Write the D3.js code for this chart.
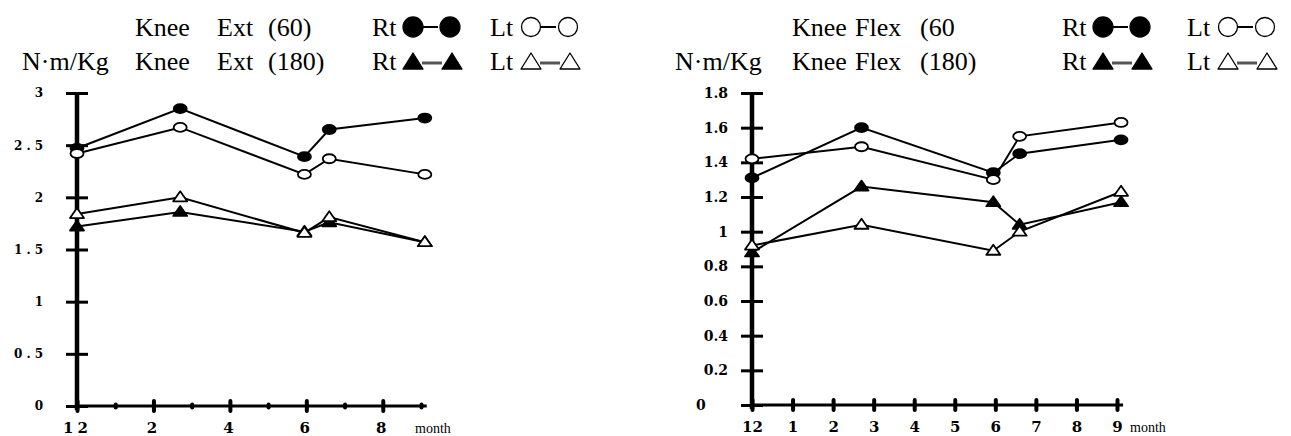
<!DOCTYPE html>
<html>
<head>
<meta charset="utf-8">
<script src="https://cdn.jsdelivr.net/npm/d3@7/dist/d3.min.js"></script>
<style>
  body { margin: 0; background: #fff; }
  svg { display: block; }
  text { font-family: "Liberation Serif", "DejaVu Serif", serif; fill: #000; }
</style>
</head>
<body>
<svg class="svg-chart" width="1291" height="436"></svg>
<script>
// months after surgery (12 = start)
var months = [0, 2.7, 5.95, 6.6, 9.1];
var monthTicks = [0, 1, 2, 3, 4, 5, 6, 7, 8, 9];
var extMonthLabels = ["12", "", "2", "", "4", "", "6", "", "8", ""];
var flexMonthLabels = ["12", "1", "2", "3", "4", "5", "6", "7", "8", "9"];

// knee extension, N·m/Kg
var extRt60 = [2.47, 2.85, 2.39, 2.65, 2.76];
var extLt60 = [2.42, 2.67, 2.22, 2.37, 2.22];
var extRt180 = [1.72, 1.86, 1.67, 1.76, 1.57];
var extLt180 = [1.84, 2.00, 1.66, 1.81, 1.57];
var extYTicks = [0, 0.5, 1, 1.5, 2, 2.5, 3];

// knee flexion, N·m/Kg
var flexRt60 = [1.31, 1.60, 1.34, 1.45, 1.53];
var flexLt60 = [1.42, 1.49, 1.30, 1.55, 1.63];
var flexRt180 = [0.88, 1.26, 1.17, 1.04, 1.17];
var flexLt180 = [0.92, 1.04, 0.89, 1.00, 1.23];
var flexYTicks = [0, 0.2, 0.4, 0.6, 0.8, 1, 1.2, 1.4, 1.6, 1.8];

var svg = d3.select(".svg-chart");
var triPath = "M-7,4L0,-6L7,4Z";

function drawPanel(p) {
  var x = d3.scaleLinear().domain([0, 9]).range(p.xRange);
  var y = d3.scaleLinear().domain(p.yDomain).range(p.yRange);
  var g = svg.append("g");

  // y axis
  var yAxis = d3.axisLeft(y)
      .tickValues(p.yTicks)
      .tickSize(11)
      .tickSizeOuter(0)
      .tickPadding(p.yPad)
      .tickFormat(p.yFormat);
  var yg = g.append("g")
      .attr("transform", "translate(" + p.xRange[0] + ",0)")
      .call(yAxis);
  yg.select(".domain").remove();
  yg.selectAll("line").attr("x1", 11).attr("stroke", "#000").attr("stroke-width", 3);
  yg.selectAll("text")
      .style("font-size", p.yFont + "px")
      .style("font-weight", "bold")
      .style("letter-spacing", p.ySpacing + "px")
      .style("font-family", "'DejaVu Serif', serif");
  if (p.zeroLeft) {
    yg.selectAll("text").filter(function(d) { return d === 0; })
      .attr("text-anchor", "start").attr("x", -56);
  }
  g.append("line")
      .attr("x1", p.xRange[0]).attr("x2", p.xRange[0])
      .attr("y1", y(0) + 4).attr("y2", y(p.yDomain[1]))
      .attr("stroke", "#000").attr("stroke-width", 4.5);

  // x axis
  var xAxis = d3.axisBottom(x)
      .tickValues(monthTicks)
      .tickSize(0)
      .tickFormat(function(d, i) { return p.xLabels[i]; });
  var xg = g.append("g")
      .attr("transform", "translate(0," + y(0) + ")")
      .call(xAxis);
  xg.select(".domain").remove();
  xg.selectAll("line")
      .attr("stroke", "#000")
      .attr("stroke-width", 4)
      .attr("stroke-linecap", "round")
      .attr("y1", function(d, i) { return p.smallOdd && i % 2 ? -1.5 : -5; })
      .attr("y2", function(d, i) { return p.smallOdd && i % 2 ? 1.5 : 5; });
  xg.selectAll("text")
      .attr("y", 27).attr("dy", 0)
      .style("font-size", "15px")
      .style("font-weight", "bold")
      .style("letter-spacing", p.xSpacing + "px")
      .style("font-family", "'DejaVu Serif', serif");
  g.append("line")
      .attr("x1", x(0)).attr("x2", x(9.15))
      .attr("y1", y(0)).attr("y2", y(0))
      .attr("stroke", "#000").attr("stroke-width", 3);
  g.append("text")
      .attr("x", x(9) + p.monthDx).attr("y", y(0) + 27)
      .style("font-size", "14px")
      .text("month");

  // series
  var line = d3.line()
      .x(function(d, i) { return x(months[i]); })
      .y(function(d) { return y(d); });
  p.series.forEach(function(s) {
    g.append("path")
        .datum(s.values)
        .attr("d", line)
        .attr("fill", "none")
        .attr("stroke", "#000")
        .attr("stroke-width", 2);
  });
  p.series.forEach(function(s) {
    var m = g.selectAll(null).data(s.values).enter();
    if (s.shape === "circle") {
      m.append("ellipse")
          .attr("cx", function(d, i) { return x(months[i]); })
          .attr("cy", function(d) { return y(d); })
          .attr("rx", 6.5).attr("ry", 4.5)
          .attr("fill", s.filled ? "#000" : "#fff")
          .attr("stroke", "#000").attr("stroke-width", 1.8);
    } else {
      m.append("path")
          .attr("d", triPath)
          .attr("transform", function(d, i) { return "translate(" + x(months[i]) + "," + y(d) + ")"; })
          .attr("fill", s.filled ? "#000" : "#fff")
          .attr("stroke", "#000").attr("stroke-width", 1.8)
          .attr("stroke-linejoin", "round");
    }
  });

  // header text
  var hs = "26px";
  g.append("text").attr("x", p.unitX).attr("y", 70).style("font-size", hs).text("N·m/Kg");
  p.titleWords[0].forEach(function(w) {
    g.append("text").attr("x", w[1]).attr("y", 36).style("font-size", hs).text(w[0]);
  });
  p.titleWords[1].forEach(function(w) {
    g.append("text").attr("x", w[1]).attr("y", 70).style("font-size", hs).text(w[0]);
  });

  // legend symbols
  [[p.rtX, true], [p.ltX, false]].forEach(function(l) {
    var lx = l[0], filled = l[1];
    g.append("text").attr("x", lx).attr("y", 36).style("font-size", hs).text(filled ? "Rt" : "Lt");
    g.append("text").attr("x", lx).attr("y", 70).style("font-size", hs).text(filled ? "Rt" : "Lt");
    // row 1 circles
    g.append("line").attr("x1", lx + 50).attr("x2", lx + 66).attr("y1", 27).attr("y2", 27)
        .attr("stroke", "#000").attr("stroke-width", 2);
    [lx + 41, lx + 78].forEach(function(cx) {
      g.append("circle").attr("cx", cx).attr("cy", 27).attr("r", filled ? 10 : 9.5)
          .attr("fill", filled ? "#000" : "#fff").attr("stroke", "#000").attr("stroke-width", 1.3);
    });
    // row 2 triangles
    g.append("line").attr("x1", lx + 50).attr("x2", lx + 70).attr("y1", 63).attr("y2", 63)
        .attr("stroke", "#555").attr("stroke-width", 3);
    [lx + 41, lx + 80].forEach(function(cx) {
      g.append("path").attr("d", "M-10,7L0,-9L10,7Z")
          .attr("transform", "translate(" + cx + ",62)")
          .attr("fill", filled ? "#000" : "#fff").attr("stroke", "#000").attr("stroke-width", 1.3)
          .attr("stroke-linejoin", "round");
    });
  });
}

drawPanel({
  xRange: [77, 421], yRange: [406, 93], yDomain: [0, 3],
  yTicks: extYTicks, yFormat: d3.format(""), yPad: 19, yFont: 12, ySpacing: 4,
  xLabels: extMonthLabels, xSpacing: 4, smallOdd: true, monthDx: -6,
  series: [
    {values: extRt60, shape: "circle", filled: true},
    {values: extLt60, shape: "circle", filled: false},
    {values: extRt180, shape: "triangle", filled: true},
    {values: extLt180, shape: "triangle", filled: false}
  ],
  unitX: 22,
  titleWords: [[["Knee", 135], ["Ext", 217], ["(60)", 268]],
               [["Knee", 135], ["Ext", 217], ["(180)", 268]]],
  rtX: 372, ltX: 490
});

drawPanel({
  xRange: [752, 1117], yRange: [405, 93], yDomain: [0, 1.8],
  yTicks: flexYTicks, yFormat: d3.format(""), yPad: 13, yFont: 14, ySpacing: 0, zeroLeft: true,
  xLabels: flexMonthLabels, xSpacing: 0, smallOdd: false, monthDx: 13,
  series: [
    {values: flexRt60, shape: "circle", filled: true},
    {values: flexLt60, shape: "circle", filled: false},
    {values: flexRt180, shape: "triangle", filled: true},
    {values: flexLt180, shape: "triangle", filled: false}
  ],
  unitX: 675,
  titleWords: [[["Knee", 792], ["Flex", 855], ["(60", 920]],
               [["Knee", 792], ["Flex", 855], ["(180)", 920]]],
  rtX: 1062, ltX: 1187
});
</script>
</body>
</html>
